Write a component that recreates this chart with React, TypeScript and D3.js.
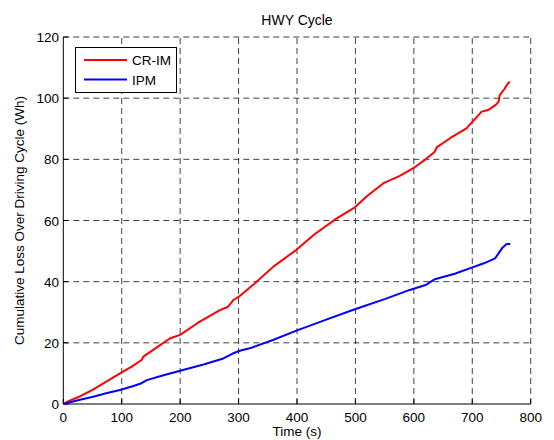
import React from "react";
import * as d3 from "d3";

const xTicks = [0, 100, 200, 300, 400, 500, 600, 700, 800];
const yTicks = [0, 20, 40, 60, 80, 100, 120];

const crimTime = [0, 10, 25, 50, 75, 97, 117, 134, 137, 160, 183, 200, 230, 268, 282, 291, 302, 328, 360, 399, 430, 468, 499, 520, 548, 576, 599, 620, 636, 639, 662, 690, 716, 727, 740, 745, 747, 755, 762, 765];
const crimLoss = [0, 1.0, 2.2, 4.6, 7.5, 10.0, 12.2, 14.4, 15.5, 18.5, 21.5, 22.6, 26.5, 30.7, 31.8, 34, 35.3, 39.5, 45, 50.4, 55.5, 60.7, 64.3, 68, 72.2, 74.6, 77.1, 80, 82.5, 83.9, 86.9, 90.1, 95.6, 96.1, 97.8, 98.8, 101, 103, 105.1, 105.1];

const ipmTime = [0, 25, 51, 75, 97, 120, 134, 143, 170, 200, 240, 274, 290, 302, 319, 360, 399, 450, 499, 550, 593, 620, 636, 670, 699, 720, 739, 747, 752, 759, 765];
const ipmLoss = [0, 1.2, 2.4, 3.6, 4.6, 5.9, 6.8, 7.8, 9.3, 10.9, 12.9, 14.9, 16.5, 17.4, 18.2, 21, 24, 27.6, 31, 34.3, 37.3, 38.9, 40.8, 42.6, 44.6, 46, 47.6, 49.8, 51.2, 52.3, 52.3];

const seriesNames = ["CR-IM", "IPM"];
const seriesColors = ["#ff0000", "#0000ff"];

const W = 554, H = 440;
const L = 63.3, R = 530.7, T = 37, B = 404;
const font = "'Liberation Sans', Arial, Helvetica, sans-serif";

export default function App() {
  const x = d3.scaleLinear().domain([0, 800]).range([L, R]);
  const y = d3.scaleLinear().domain([0, 120]).range([B, T]);
  const line = d3.line<[number, number]>().x(d => x(d[0])).y(d => y(d[1]));
  const crim = crimTime.map((t, i) => [t, crimLoss[i]] as [number, number]);
  const ipm = ipmTime.map((t, i) => [t, ipmLoss[i]] as [number, number]);
  const grid = "#404040";
  return (
    <svg width={W} height={H} style={{ position: "absolute", left: 0, top: 0, background: "#fff" }} fontFamily={font}>
      <rect x={0} y={0} width={W} height={H} fill="#fff" />
      {xTicks.filter(t => t > 0).map(t => (
        <line key={"gx" + t} x1={x(t)} x2={x(t)} y1={B} y2={T} stroke={grid} strokeWidth={1} strokeDasharray="6,4" />
      ))}
      {yTicks.filter(t => t > 0).map(t => (
        <line key={"gy" + t} x1={L} x2={R} y1={y(t)} y2={y(t)} stroke={grid} strokeWidth={1} strokeDasharray="6,4" />
      ))}
      <line x1={L} x2={L} y1={T} y2={B} stroke="#000" strokeWidth={1} />
      <line x1={L} x2={R} y1={B} y2={B} stroke="#000" strokeWidth={1} />
      {xTicks.map(t => (
        <g key={"tx" + t}>
          <line x1={x(t)} x2={x(t)} y1={B} y2={B - 5} stroke="#000" />
          <text x={x(t)} y={421.5} fontSize={13.5} textAnchor="middle">{t}</text>
        </g>
      ))}
      {yTicks.map(t => (
        <g key={"ty" + t}>
          <line x1={L} x2={L + 5} y1={y(t)} y2={y(t)} stroke="#000" />
          <text x={59} y={y(t) + 5} fontSize={13.5} textAnchor="end">{t}</text>
        </g>
      ))}
      <path d={line(crim) || ""} fill="none" stroke={seriesColors[0]} strokeWidth={2} strokeLinejoin="round" />
      <path d={line(ipm) || ""} fill="none" stroke={seriesColors[1]} strokeWidth={2} strokeLinejoin="round" />
      <text x={297} y={25} fontSize={14} textAnchor="middle">HWY Cycle</text>
      <text x={297} y={436} fontSize={13.5} textAnchor="middle">Time (s)</text>
      <text transform={`translate(24,${(T + B) / 2}) rotate(-90)`} fontSize={13.5} textAnchor="middle">Cumulative Loss Over Driving Cycle (Wh)</text>
      <rect x={75.5} y={47.5} width={101} height={45} fill="#fff" stroke="#000" strokeWidth={1} />
      {seriesNames.map((n, i) => (
        <g key={n}>
          <line x1={84} x2={127} y1={60 + i * 19.5} y2={60 + i * 19.5} stroke={seriesColors[i]} strokeWidth={2} />
          <text x={132} y={60 + i * 19.5 + 5} fontSize={13.5}>{n}</text>
        </g>
      ))}
    </svg>
  );
}
